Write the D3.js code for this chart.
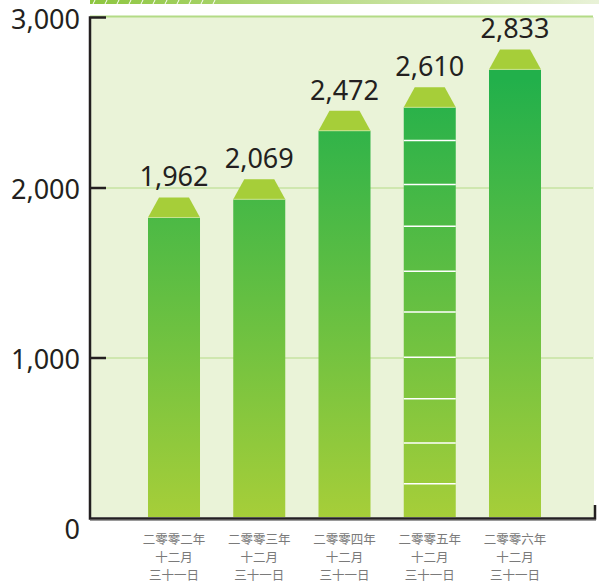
<!DOCTYPE html>
<html>
<head>
<meta charset="utf-8">
<script src="https://cdn.jsdelivr.net/npm/d3@7"></script>
<style>
  body { margin: 0; background: #fff; }
  svg { display: block; }
</style>
</head>
<body>
<svg id="chart"></svg>
<script>
// data
var years = ["二零零二年", "二零零三年", "二零零四年", "二零零五年", "二零零六年"]
var dateLines = ["十二月", "三十一日"]
var values = [1962, 2069, 2472, 2610, 2833]
var yTicks = [0, 1000, 2000, 3000]
// thin white cuts seen only inside the 2005 bar
var stripeValues = [260, 500, 760, 1005, 1270, 1510, 1775, 2020, 2280]

const W = 599, H = 587
const PLOT = {left: 90, right: 594, top: 17, bottom: 517}
const CAP = 20, INSET = 11, CAP_SHIFT = 3

const svg = d3.select("#chart").attr("width", W).attr("height", H)
  .style("font-family", "'Noto Sans', 'Open Sans', sans-serif")

const y = d3.scaleLinear().domain([0, 3000]).range([528, 18])
const x = d3.scaleBand().domain(years)
  .range([96, 593]).paddingInner(0.39).paddingOuter(0.61)

const defs = svg.append("defs")
const barGrad = defs.append("linearGradient").attr("id", "barGrad")
  .attr("gradientUnits", "userSpaceOnUse")
  .attr("x1", 0).attr("x2", 0).attr("y1", 80).attr("y2", PLOT.bottom)
barGrad.append("stop").attr("offset", "0%").attr("stop-color", "#22b04b")
barGrad.append("stop").attr("offset", "100%").attr("stop-color", "#a6ce39")

const topGrad = defs.append("linearGradient").attr("id", "topGrad")
topGrad.append("stop").attr("offset", "0%").attr("stop-color", "#8dc63f")
topGrad.append("stop").attr("offset", "45%").attr("stop-color", "#b9db86")
topGrad.append("stop").attr("offset", "100%").attr("stop-color", "#e9f2d8")

// decorative strip at the very top
svg.append("rect").attr("x", 90).attr("y", 0).attr("width", W - 90).attr("height", 4)
  .attr("fill", "url(#topGrad)")
svg.append("g").selectAll("line").data(d3.range(11)).enter().append("line")
  .attr("x1", (d, i) => 95 + i * 12).attr("x2", (d, i) => 93 + i * 12)
  .attr("y1", 0).attr("y2", 4)
  .attr("stroke", "#fff").attr("stroke-width", 1)

// plot background
svg.append("rect")
  .attr("x", PLOT.left).attr("y", PLOT.top)
  .attr("width", PLOT.right - PLOT.left).attr("height", PLOT.bottom - PLOT.top)
  .attr("fill", "#eaf3d8")
svg.append("line").attr("x1", PLOT.left).attr("x2", 593)
  .attr("y1", 16.5).attr("y2", 16.5).attr("stroke", "#b3db86").attr("stroke-width", 2)

// gridlines
svg.append("g").selectAll("line").data([1000, 2000]).enter().append("line")
  .attr("x1", PLOT.left).attr("x2", 593)
  .attr("y1", d => y(d)).attr("y2", d => y(d))
  .attr("stroke", "#b3db86").attr("stroke-width", 1.2)

// bars
const capTop = d => y(d) + CAP_SHIFT
const bars = svg.append("g").selectAll("g").data(values).enter().append("g")
bars.append("rect")
  .attr("x", (d, i) => x(years[i]))
  .attr("y", d => capTop(d) + CAP)
  .attr("width", x.bandwidth())
  .attr("height", d => PLOT.bottom - capTop(d) - CAP)
  .attr("fill", "url(#barGrad)")
bars.append("path")
  .attr("d", (d, i) => {
    const x0 = x(years[i]), x1 = x0 + x.bandwidth(), t = capTop(d)
    return `M${x0},${t + CAP}L${x0 + INSET},${t}L${x1 - INSET},${t}L${x1},${t + CAP}Z`
  })
  .attr("fill", "#a6ce39")
bars.append("line")
  .attr("x1", (d, i) => x(years[i])).attr("x2", (d, i) => x(years[i]) + x.bandwidth())
  .attr("y1", d => capTop(d) + CAP).attr("y2", d => capTop(d) + CAP)
  .attr("stroke", "#d4e9a0").attr("stroke-width", 0.8)
bars.append("text")
  .text(d => d3.format(",")(d))
  .attr("x", (d, i) => x(years[i]) + x.bandwidth() / 2)
  .attr("y", d => capTop(d) - 11)
  .attr("text-anchor", "middle")
  .attr("font-size", 27).attr("fill", "#231f20")

// white cuts inside 2005 bar
svg.append("g").selectAll("line").data(stripeValues).enter().append("line")
  .attr("x1", x(years[3])).attr("x2", x(years[3]) + x.bandwidth())
  .attr("y1", d => y(d)).attr("y2", d => y(d))
  .attr("stroke", "#fff").attr("stroke-width", 1.5)

// axes
const axisCol = "#231f20"
svg.append("path")
  .attr("d", `M106,17.5H90V518.5H595V505`)
  .attr("fill", "none").attr("stroke", axisCol).attr("stroke-width", 2.5)
svg.append("line").attr("x1", 90).attr("x2", 596).attr("y1", 520.5).attr("y2", 520.5)
  .attr("stroke", "#9a9a9a").attr("stroke-width", 1)
svg.append("g").selectAll("line").data([1000, 2000]).enter().append("line")
  .attr("x1", 90).attr("x2", 106)
  .attr("y1", d => y(d)).attr("y2", d => y(d))
  .attr("stroke", axisCol).attr("stroke-width", 2.5)

svg.append("g").selectAll("text").data(yTicks).enter().append("text")
  .text(d => d3.format(",")(d))
  .attr("x", 80).attr("y", d => y(d) + 1).attr("dy", "0.36em")
  .attr("text-anchor", "end")
  .attr("font-size", 27).attr("fill", axisCol)

// category labels, three lines each
const xl = svg.append("g").selectAll("text").data(years).enter().append("text")
  .attr("text-anchor", "middle")
  .attr("font-family", "'Noto Sans CJK TC', 'Noto Sans CJK SC', sans-serif")
  .attr("font-size", 12.5).attr("fill", "#7a7a7a")
xl.each(function (d) {
  const t = d3.select(this), cx = x(d) + x.bandwidth() / 2
  ;[d].concat(dateLines).forEach((s, k) => {
    t.append("tspan").attr("x", cx).attr("y", 539 + k * 18).attr("dy", "0.36em").text(s)
  })
})
</script>
</body>
</html>
